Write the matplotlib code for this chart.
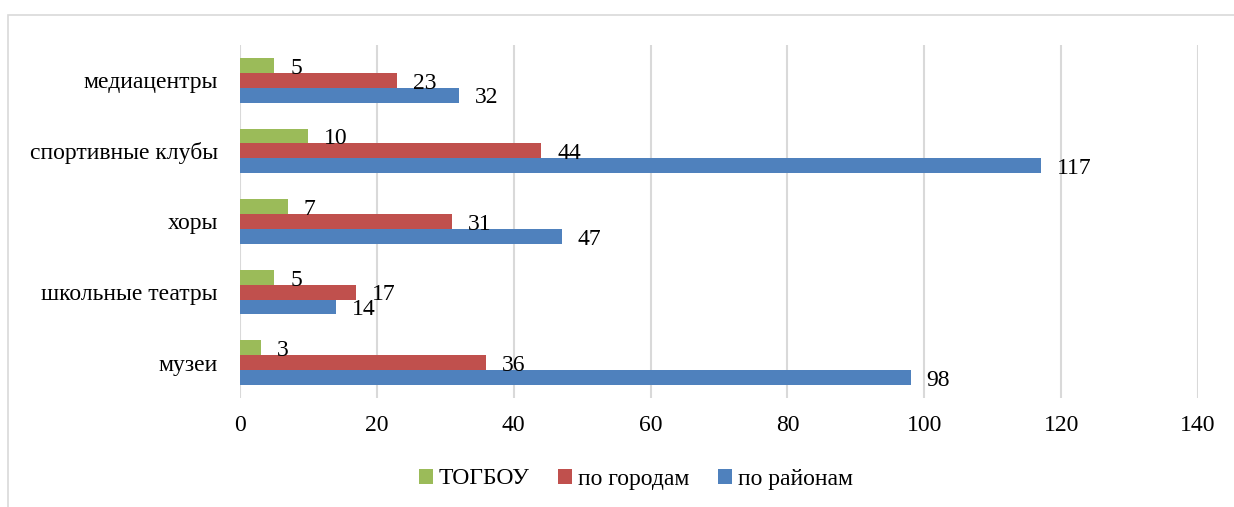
import numpy as np
import matplotlib
matplotlib.use("Agg")
import matplotlib.pyplot as plt
from matplotlib.patches import Rectangle

# Categories from bottom to top
categories = ["музеи", "школьные театры", "хоры", "спортивные клубы", "медиацентры"]
togbou = [3, 5, 7, 10, 5]
po_gorodam = [36, 17, 31, 44, 23]
po_rayonam = [98, 14, 47, 117, 32]
x_ticks = [0, 20, 40, 60, 80, 100, 120, 140]

GREEN = "#9BBB59"
RED = "#C0504D"
BLUE = "#4F81BD"
GRID = "#D9D9D9"
FONT_SIZE = 17
BAR_H = 0.21

plt.rcParams['font.family'] = ['Liberation Serif', 'DejaVu Serif']

fig = plt.figure(figsize=(12.34, 5.07), dpi=100)
ax = fig.add_axes([240 / 1234, 1 - 398 / 507, (1198 - 240) / 1234, (398 - 45) / 507])

# Outer chart frame (cut off at right and bottom like the original)
fig.patches.append(Rectangle((8 / 1234, -0.05), 1.2, 1 - 15 / 507 + 0.05,
                             transform=fig.transFigure, fill=False,
                             edgecolor=GRID, linewidth=1.2))

y = np.arange(len(categories))
series = [
    (togbou, BAR_H, GREEN, "ТОГБОУ"),
    (po_gorodam, 0, RED, "по городам"),
    (po_rayonam, -BAR_H, BLUE, "по районам"),
]
for values, offset, color, label in series:
    bars = ax.barh(y + offset, values, height=BAR_H, color=color, label=label, zorder=3)
    for bar, v in zip(bars, values):
        ax.annotate(str(v), (bar.get_width(), bar.get_y() + bar.get_height() / 2),
                    xytext=(11.5, -2), textcoords="offset points",
                    ha="left", va="center", fontsize=FONT_SIZE, zorder=4)

ax.set_xlim(0, 140)
ax.set_ylim(-0.5, len(categories) - 0.5)
ax.set_xticks(x_ticks)
ax.set_yticks(y)
ax.set_yticklabels(categories)
ax.tick_params(axis="both", length=0, labelsize=FONT_SIZE)
ax.tick_params(axis="x", pad=12)
ax.tick_params(axis="y", pad=16)
ax.grid(axis="x", color=GRID, linewidth=1.5, zorder=0)
for s in ax.spines.values():
    s.set_visible(False)

fig.legend(loc="center", bbox_to_anchor=(636 / 1234, 1 - 479 / 507), ncol=3,
           frameon=False, fontsize=FONT_SIZE, handlelength=0.6, handleheight=0.6,
           handletextpad=0.25, columnspacing=1.2)

plt.savefig("out.png", dpi=100)
